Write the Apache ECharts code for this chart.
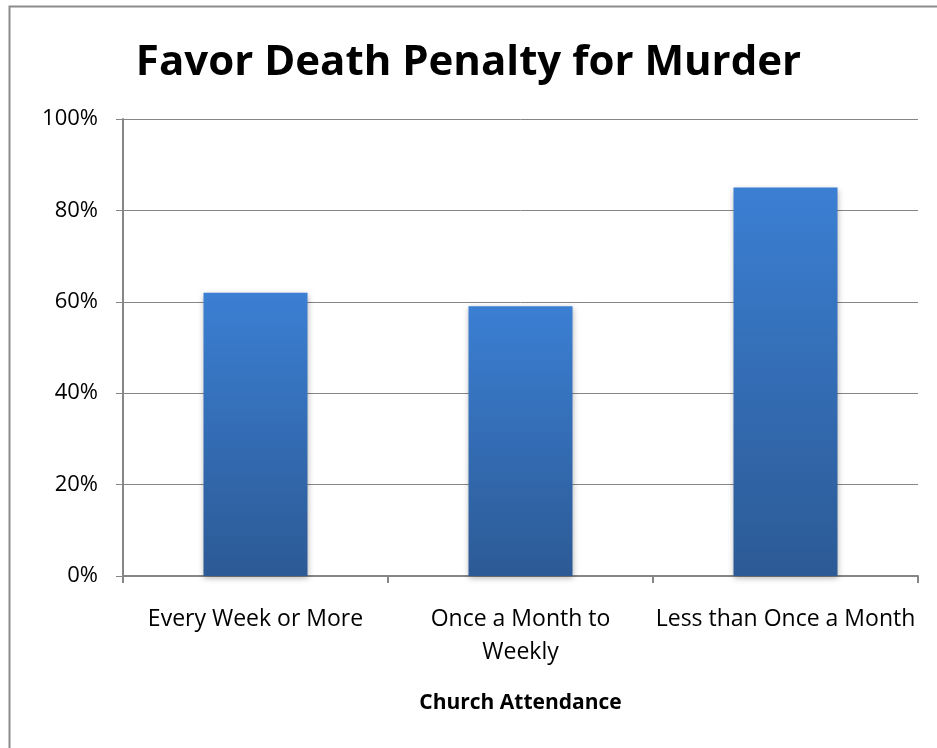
<!DOCTYPE html>
<html><head><meta charset="utf-8">
<script src="https://cdn.jsdelivr.net/npm/echarts@6/dist/echarts.min.js"></script>
<style>html,body{margin:0;padding:0;background:#fff}#c{width:937px;height:748px}</style>
</head><body><div id="c"></div>
<script>
const titleText = 'Favor Death Penalty for Murder';
const categories = ['Every Week or More', 'Once a Month to\nWeekly', 'Less than Once a Month'];
const values = [62, 59, 85];
const yTicks = [0, 20, 40, 60, 80, 100];
const xAxisName = 'Church Attendance';

const chart = echarts.init(document.getElementById('c'), null, {renderer: 'canvas'});
const font = '"Open Sans", "Liberation Sans", sans-serif';
chart.setOption({
  backgroundColor: '#fff',
  animation: false,
  graphic: [{
    type: 'rect', shape: {x: 9.5, y: 6.5, width: 1000, height: 800},
    style: {fill: 'none', stroke: '#8c8c8c', lineWidth: 2}, silent: true, z: -1
  }],
  title: {
    text: titleText, left: 'center', top: 37,
    textStyle: {fontFamily: font, fontSize: 42, fontWeight: 'bold', color: '#000'}
  },
  grid: {left: 123, right: 19, top: 119, bottom: 172, containLabel: false},
  xAxis: {
    type: 'category', data: categories,
    name: xAxisName, nameLocation: 'middle', nameGap: 117,
    nameTextStyle: {fontFamily: font, fontSize: 21, fontWeight: 'bold', color: '#000'},
    axisLine: {lineStyle: {color: '#868686', width: 2}},
    axisTick: {show: true, alignWithLabel: false, length: 7, lineStyle: {color: '#868686', width: 2}},
    axisLabel: {fontFamily: font, fontSize: 23, color: '#000', margin: 27, lineHeight: 33, interval: 0}
  },
  yAxis: {
    type: 'value', min: 0, max: 100, interval: 20,
    axisLine: {show: true, lineStyle: {color: '#868686', width: 2}},
    axisTick: {show: true, length: 7, lineStyle: {color: '#868686', width: 1}},
    splitLine: {lineStyle: {color: '#868686', width: 1}},
    axisLabel: {fontFamily: font, fontSize: 22, color: '#000', margin: 25,
      formatter: v => yTicks.includes(v) ? v + '%' : ''}
  },
  series: [{
    type: 'bar', data: values, barWidth: 104,
    itemStyle: {
      color: new echarts.graphic.LinearGradient(0, 0, 0, 1, [
        {offset: 0, color: '#3b7fd3'}, {offset: 1, color: '#2c5a95'}
      ]),
      shadowColor: 'rgba(0,0,0,0.3)', shadowBlur: 6, shadowOffsetY: 2
    }
  }]
});
</script></body></html>
